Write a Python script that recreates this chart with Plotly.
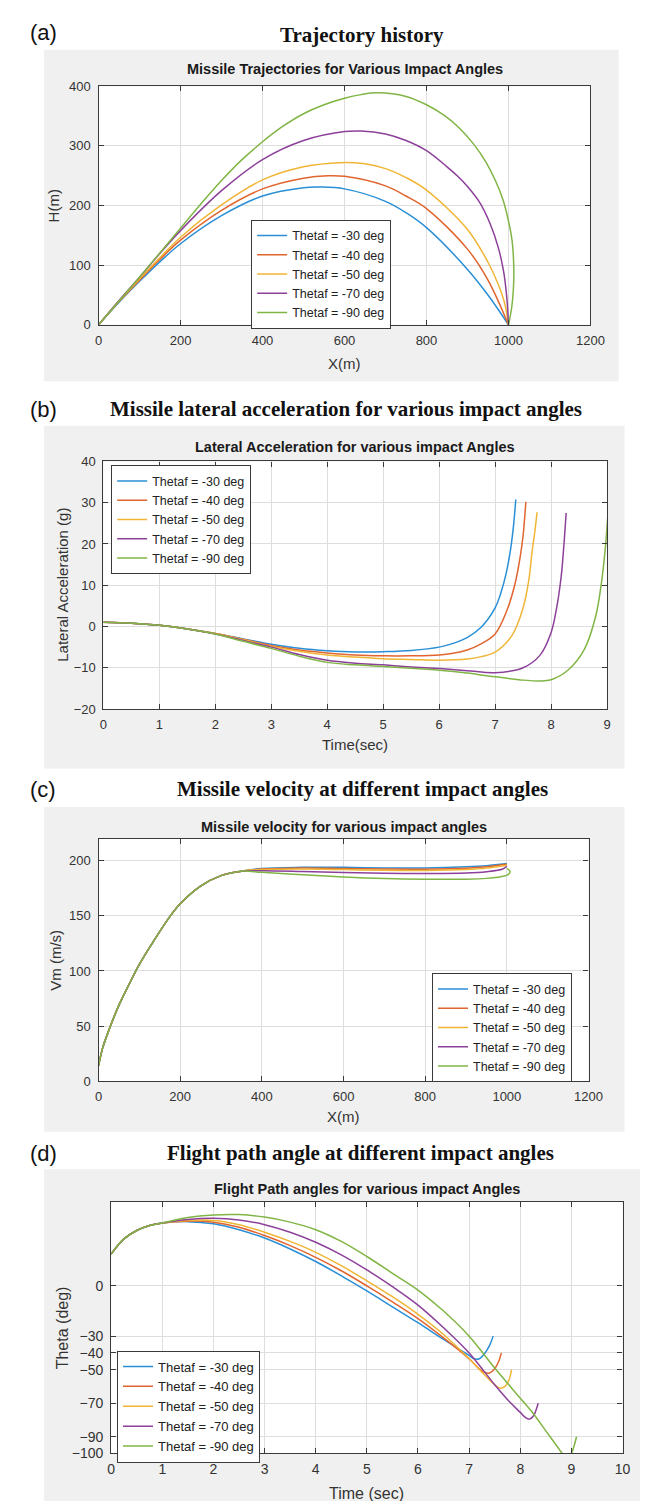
import plotly.graph_objects as go

W, H = 648, 1501
labels = ["Thetaf = -30 deg", "Thetaf = -40 deg", "Thetaf = -50 deg", "Thetaf = -70 deg", "Thetaf = -90 deg"]
colors = ["#2a8fd6", "#e0652f", "#f0b535", "#8c409a", "#80b545"]

# ---------- (a) trajectory H vs X ----------
a_x = [
    [0, 50, 100, 150, 200, 300, 400, 500, 540, 600, 700, 750, 800, 900, 950, 1000],
    [0, 50, 100, 150, 200, 300, 400, 500, 560, 600, 700, 750, 800, 900, 950, 1000],
    [0, 50, 100, 150, 200, 300, 400, 500, 590, 650, 700, 750, 800, 900, 950, 975, 990, 1000],
    [0, 50, 100, 150, 200, 300, 400, 500, 600, 640, 700, 750, 800, 850, 875, 900, 930, 955, 975, 988, 996, 1000],
    [0, 50, 100, 150, 200, 250, 300, 350, 400, 450, 500, 550, 600, 640, 680, 750, 800, 846, 880, 915, 945, 968, 987, 1001, 1009, 1013, 1012, 1008, 1000],
]
a_h = [
    [0, 38, 73, 106, 136, 183, 216, 230, 231, 228, 207, 188, 163, 93, 50, 0],
    [0, 39, 75, 110, 142, 192, 228, 246, 250, 249, 233, 216, 195, 127, 75, 0],
    [0, 40, 77, 113, 147, 201, 243, 265, 272, 270, 262, 247, 226, 160, 105, 68, 38, 0],
    [0, 41, 80, 120, 158, 225, 277, 309, 324, 325, 320, 309, 292, 265, 250, 232, 205, 170, 130, 90, 45, 0],
    [0, 40, 80, 121, 162, 203, 242, 277, 307, 333, 354, 369, 380, 386, 389, 383, 369, 350, 330, 303, 273, 242, 209, 171, 140, 95, 60, 30, 0],
]

# ---------- (b) lateral acceleration vs time ----------
b_common_t = [0, 0.5, 1, 1.5, 2, 2.5, 3, 3.5, 4, 4.5, 5, 5.5, 6]
b_t = [
    b_common_t + [6.25, 6.5, 6.75, 7.0, 7.1, 7.2, 7.28, 7.33, 7.37],
    b_common_t + [6.25, 6.5, 6.75, 7.0, 7.2, 7.35, 7.45, 7.5, 7.55],
    b_common_t + [6.5, 6.75, 7.0, 7.3, 7.5, 7.6, 7.66, 7.71, 7.75],
    b_common_t + [6.5, 7.0, 7.5, 7.8, 8.0, 8.1, 8.18, 8.22, 8.27],
    b_common_t + [6.5, 7.0, 7.5, 7.8, 8.0, 8.3, 8.6, 8.8, 8.9, 8.97, 9.02],
]
b_a = [
    [1.0, 0.8, 0.3, -0.6, -1.7, -3.0, -4.3, -5.3, -5.9, -6.2, -6.1, -5.8, -5.0, -4.1, -2.7, -0.2, 4.5, 8.0, 13.0, 19.0, 24.5, 30.8],
    [1.0, 0.8, 0.3, -0.6, -1.7, -3.1, -4.6, -5.7, -6.4, -6.9, -7.1, -7.1, -6.9, -6.5, -5.7, -4.2, -1.8, 3.5, 10.0, 17.0, 22.0, 30.2],
    [1.0, 0.8, 0.3, -0.6, -1.7, -3.2, -4.8, -6.0, -6.9, -7.4, -7.8, -8.0, -8.2, -7.9, -7.3, -6.2, -2.2, 4.5, 11.0, 18.0, 23.0, 27.7],
    [1.0, 0.8, 0.3, -0.6, -1.8, -3.4, -5.0, -6.8, -8.2, -8.9, -9.3, -9.8, -10.2, -10.7, -11.2, -10.0, -7.0, -1.5, 4.5, 12.0, 18.0, 27.5],
    [1.0, 0.8, 0.3, -0.6, -1.8, -3.6, -5.3, -7.2, -8.7, -9.3, -9.7, -10.1, -10.6, -11.3, -12.2, -13.0, -13.2, -12.9, -10.6, -5.4, 2.6, 10.6, 19.0, 28.0],
]

# ---------- (c) velocity vs X ----------
c_common_x = [0, 10, 25, 50, 75, 100, 133, 172, 200, 250, 300, 350]
c_common_v = [14, 30, 46, 69, 88, 106, 126, 148, 161, 177, 186.5, 190.5]
c_x = [
    c_common_x + [400, 500, 600, 700, 800, 900, 950, 1000],
    c_common_x + [400, 500, 600, 700, 800, 900, 950, 1000],
    c_common_x + [400, 500, 600, 700, 800, 900, 950, 1000],
    c_common_x + [400, 500, 600, 700, 800, 900, 950, 990, 1000],
    c_common_x + [400, 500, 600, 700, 800, 900, 950, 985, 1003, 1008, 1004, 1000],
]
c_v = [
    c_common_v + [193, 194, 194, 193.5, 193.5, 194.5, 195.5, 197.5],
    c_common_v + [192.5, 193.5, 193, 192.5, 192.3, 193.2, 194.5, 196.8],
    c_common_v + [192, 192.5, 192, 191.3, 191.2, 192, 193.3, 196],
    c_common_v + [191, 190.3, 189.3, 188.6, 188.4, 188.8, 190, 192.5, 195],
    c_common_v + [189.5, 187.2, 185.2, 183.8, 183.2, 183.3, 184, 185.5, 187.5, 190, 192, 193],
]

# ---------- (d) flight path angle vs time ----------
d_common_t = [0, 0.25, 0.5, 0.75, 1.0]
d_common_th = [19, 28, 33, 36, 37.5]
d_t = [
    d_common_t + [1.5, 2, 2.5, 3, 3.5, 4, 4.5, 5, 5.5, 6, 6.5, 7.0, 7.1, 7.2, 7.3, 7.4, 7.47],
    d_common_t + [1.5, 2, 2.5, 3, 3.5, 4, 4.5, 5, 5.5, 6, 6.5, 7.0, 7.2, 7.3, 7.4, 7.5, 7.58, 7.63],
    d_common_t + [1.5, 2, 2.5, 3, 3.5, 4, 4.5, 5, 5.5, 6, 6.5, 7.0, 7.3, 7.5, 7.6, 7.7, 7.78, 7.83],
    d_common_t + [1.5, 2, 2.5, 3, 3.5, 4, 4.5, 5, 5.5, 6, 6.5, 7.0, 7.5, 7.8, 8.0, 8.1, 8.18, 8.26, 8.32, 8.35],
    d_common_t + [1.5, 2, 2.5, 3, 3.5, 4, 4.5, 5, 5.5, 6, 6.5, 7.0, 7.5, 8.0, 8.25, 8.5, 8.82, 8.91, 9.0, 9.1],
]
d_th = [
    d_common_th + [38.3, 37, 33.5, 28.5, 22, 14.5, 6, -3, -12.5, -22, -32, -41.5, -43.5, -43.5, -40.5, -35.5, -30],
    d_common_th + [38.6, 38, 35, 30, 24, 17, 9, 0, -9.5, -19.5, -31, -43.5, -49.5, -51.5, -52, -49.5, -45, -40],
    d_common_th + [39, 39, 36.5, 32, 26.5, 20, 12, 3, -6.5, -17, -29, -43.5, -53, -59, -61, -60, -56, -50],
    d_common_th + [39.6, 40.3, 39.3, 36.5, 32, 26, 18.5, 9.5, -0.5, -11.5, -25, -40, -59, -69.5, -75.5, -78.5, -79.5, -77.5, -73, -70],
    d_common_th + [40.8, 42.3, 42.5, 41, 38, 33.5, 26.5, 17.5, 7.5, -2.5, -15, -30, -49, -67, -76, -86.5, -100, -104, -100, -90],
]

panels = [
    dict(x=a_x, y=a_h, plot=(89, 72, 595, 313), xr=[0, 1200], yr=[0, 400], xt=list(range(0, 1201, 200)), yt=list(range(0, 401, 100)),
         bg=(33, 35, 624, 370), sub="Missile Trajectories for Various Impact Angles", sub_y=55,
         title="Trajectory history", title_xy=(360, 20), tag="(a)", tag_y=18,
         xl="X(m)", xl_y=352, yl="H(m)", yl_x=43, leg=(246, 207), fs=13),
    dict(x=b_t, y=b_a, plot=(94, 451, 612, 701), xr=[0, 9], yr=[-20, 40], xt=list(range(0, 10)), yt=list(range(-20, 41, 10)),
         bg=(33, 415, 630, 761), sub="Lateral Acceleration for various impact Angles", sub_y=436,
         title="Missile lateral acceleration for various impact angles", title_xy=(344, 398), tag="(b)", tag_y=398,
         xl="Time(sec)", xl_y=737, yl="Lateral Acceleration (g)", yl_x=52, leg=(102, 455), fs=13),
    dict(x=c_x, y=c_v, plot=(89, 832, 593, 1077), xr=[0, 1200], yr=[0, 220], xt=list(range(0, 1201, 200)), yt=list(range(0, 201, 50)),
         bg=(33, 800, 630, 1128), sub="Missile velocity for various impact angles", sub_y=820,
         title="Missile velocity at different impact angles", title_xy=(360, 782), tag="(c)", tag_y=782,
         xl="X(m)", xl_y=1113, yl="Vm (m/s)", yl_x=45, leg=(432, 968), fs=13),
    dict(x=d_t, y=d_th, plot=(102, 1199, 628, 1453), xr=[0, 10], yr=[-100, 50], xt=list(range(0, 11)), yt=[-100, -90, -70, -50, -40, -30, 0],
         bg=(33, 1166, 646, 1501), sub="Flight Path angles for various impact Angles", sub_y=1186,
         title="Flight path angle at different impact angles", title_xy=(358, 1149), tag="(d)", tag_y=1150,
         xl="Time (sec)", xl_y=1493, yl="Theta (deg)", yl_x=52, leg=(108, 1349), fs=14),
]

def px(v):
    return v / W

def py(v):
    return 1 - v / H

fig = go.Figure()
shapes, annotations = [], []
font_sans = "Liberation Sans, Arial, sans-serif"
layout = {}

for i, p in enumerate(panels):
    n = "" if i == 0 else str(i + 1)
    x0, y0, x1, y1 = p["plot"]
    bx0, by0, bx1, by1 = p["bg"]
    shapes.append(dict(type="rect", xref="paper", yref="paper", x0=px(bx0), x1=px(bx1), y0=py(by1), y1=py(by0),
                       fillcolor="#f0f0f0", line=dict(width=0), layer="below"))
    shapes.append(dict(type="rect", xref="paper", yref="paper", x0=px(x0), x1=px(x1), y0=py(y1), y1=py(y0),
                       fillcolor="white", line=dict(width=0), layer="below"))
    axstyle = dict(showline=True, linecolor="#3a3a3a", linewidth=1.2, mirror="ticks", ticks="inside", ticklen=5,
                   tickcolor="#3a3a3a", showgrid=True, gridcolor="#dedede", gridwidth=1, zeroline=False,
                   tickfont=dict(family=font_sans, size=p["fs"], color="#333333"), fixedrange=True)
    layout["xaxis" + n] = dict(axstyle, domain=[px(x0), px(x1)], range=p["xr"], tickvals=p["xt"],
                               anchor="y" + n, ticklabelstandoff=3)
    layout["yaxis" + n] = dict(axstyle, domain=[py(y1), py(y0)], range=p["yr"], tickvals=p["yt"],
                               anchor="x" + n, ticklabelstandoff=4)
    legname = "legend" + n
    layout[legname] = dict(x=px(p["leg"][0]), y=py(p["leg"][1]), xanchor="left", yanchor="top",
                           xref="paper", yref="paper",
                           bgcolor="white", bordercolor="#3a3a3a", borderwidth=1,
                           font=dict(family=font_sans, size=12.5 if i < 3 else 13, color="#222222"), itemwidth=30,
                           tracegroupgap=0)
    for k in range(5):
        fig.add_trace(go.Scatter(x=p["x"][k], y=p["y"][k], mode="lines", name=labels[k],
                                 line=dict(color=colors[k], width=1.5, shape="spline", smoothing=1.0),
                                 xaxis="x" + n, yaxis="y" + n, legend=legname, hoverinfo="skip"))
    cx = (x0 + x1) / 2
    annotations.append(dict(text="<b>" + p["sub"] + "</b>", x=px(cx), y=py(p["sub_y"]), xref="paper", yref="paper",
                            showarrow=False, xanchor="center", yanchor="middle",
                            font=dict(family=font_sans, size=14.5, color="#1a1a1a")))
    annotations.append(dict(text="<b>" + p["title"] + "</b>", x=px(p["title_xy"][0]), y=py(p["title_xy"][1]),
                            xref="paper", yref="paper", showarrow=False, xanchor="center", yanchor="middle",
                            font=dict(family="Liberation Serif, Times New Roman, serif", size=21, color="#111111")))
    annotations.append(dict(text=p["tag"], x=px(32), y=py(p["tag_y"]), xref="paper", yref="paper",
                            showarrow=False, xanchor="center", yanchor="middle",
                            font=dict(family=font_sans, size=22, color="#111111")))
    annotations.append(dict(text=p["xl"], x=px(cx), y=py(p["xl_y"]), xref="paper", yref="paper",
                            showarrow=False, xanchor="center", yanchor="middle",
                            font=dict(family=font_sans, size=15 if i < 3 else 16, color="#333333")))
    annotations.append(dict(text=p["yl"], x=px(p["yl_x"]), y=py((y0 + y1) / 2), xref="paper", yref="paper",
                            showarrow=False, xanchor="center", yanchor="middle", textangle=-90,
                            font=dict(family=font_sans, size=15 if i < 3 else 16, color="#333333")))

fig.update_layout(width=W, height=H, margin=dict(l=0, r=0, t=0, b=0), paper_bgcolor="white",
                  plot_bgcolor="rgba(0,0,0,0)", showlegend=True, shapes=shapes, annotations=annotations, **layout)
fig.write_html("out.html")
